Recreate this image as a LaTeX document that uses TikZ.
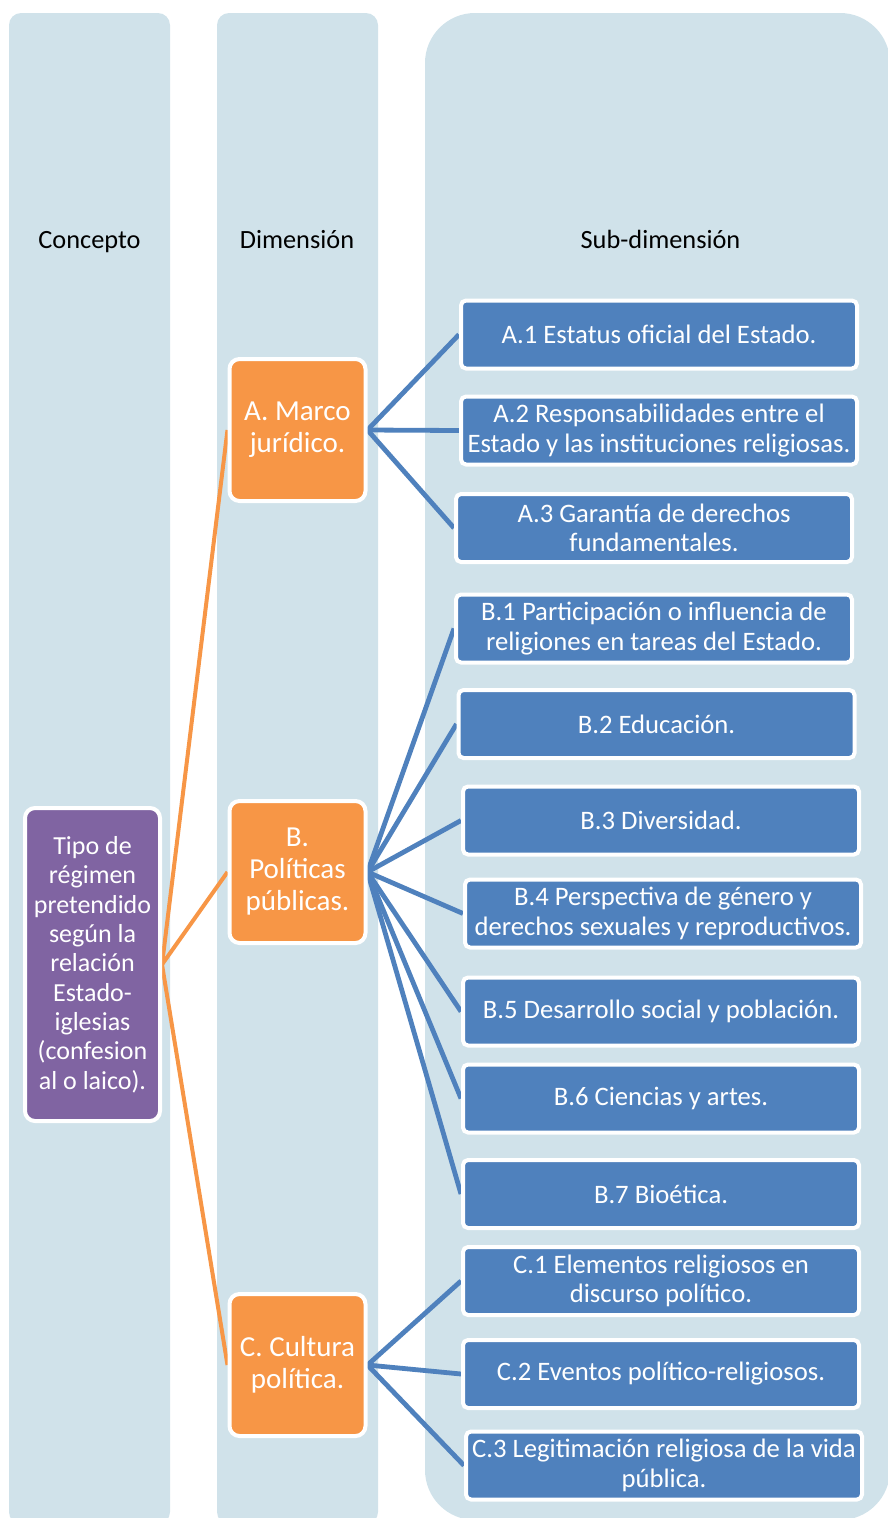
\documentclass[tikz,border=0pt]{standalone}
\usepackage{fontspec}
\setmainfont{Carlito}
\definecolor{colbg}{RGB}{208,226,234}
\definecolor{boxblue}{RGB}{79,129,189}
\definecolor{boxorange}{RGB}{247,150,70}
\definecolor{boxpurple}{RGB}{128,100,162}
\pgfdeclarelayer{cols}
\pgfdeclarelayer{links}
\pgfsetlayers{cols,links,main}
\tikzset{
  boxbase/.style={draw=white, line width=3pt, text=white, align=center, inner sep=0pt},
  subbox/.style={boxbase, fill=boxblue, rounded corners=3.75pt, minimum width=297pt, minimum height=51pt, font=\fontsize{20}{22}\selectfont},
  dimbox/.style={boxbase, fill=boxorange, rounded corners=7.5pt, minimum width=102pt, minimum height=106.5pt, font=\fontsize{21.75}{24}\selectfont},
  conbox/.style={boxbase, fill=boxpurple, rounded corners=7.5pt, minimum width=101.25pt, minimum height=234.75pt, font=\fontsize{19.5}{22}\selectfont},
  header/.style={anchor=base, font=\fontsize{19.75}{22}\selectfont, text=black},
  bline/.style={draw=boxblue, line width=3.6pt},
  oline/.style={draw=boxorange, line width=3pt},
  colfill/.style={fill=colbg},
}
\begin{document}
\begin{tikzpicture}[x=0.75pt,y=-0.75pt]
\useasboundingbox (0,0) rectangle (888,1518);
\begin{pgfonlayer}{cols}
  \fill[colfill, rounded corners=9pt] (9,13) rectangle (170,1524);
  \fill[colfill, rounded corners=9pt] (217,13) rectangle (378,1524);
  \fill[colfill, rounded corners=37.5pt] (425,13) rectangle (890,1520);
\end{pgfonlayer}

\node[header] (hc) at (89.5,248) {Concepto};
\node[header] (hd) at (297,248) {Dimensión};
\node[header] (hs) at (660.5,248) {Sub-dimensión};

\node[conbox] (con) at (92.5,964.5) {Tipo de\\régimen\\pretendido\\según la\\relación\\Estado-\\iglesias\\(confesion\\al o laico).};

\node[dimbox] (dA) at (297.5,430) {A. Marco\\jurídico.};
\node[dimbox] (dB) at (297.5,872) {B.\\Políticas\\públicas.};
\node[dimbox] (dC) at (297.5,1365) {C. Cultura\\política.};

\node[subbox] (a1) at (659,334.5) {A.1 Estatus oficial del Estado.};
\node[subbox] (a2) at (659,430.5) {A.2 Responsabilidades entre el\\Estado y las instituciones religiosas.};
\node[subbox] (a3) at (654,528) {A.3 Garantía de derechos\\fundamentales.};
\node[subbox] (b1) at (654,628.5) {B.1 Participación o influencia de\\religiones en tareas del Estado.};
\node[subbox] (b2) at (656.5,724) {B.2 Educación.};
\node[subbox] (b3) at (661,820.5) {B.3 Diversidad.};
\node[subbox] (b4) at (663,913.5) {B.4 Perspectiva de género y\\derechos sexuales y reproductivos.};
\node[subbox] (b5) at (661,1011.5) {B.5 Desarrollo social y población.};
\node[subbox] (b6) at (661,1098.5) {B.6 Ciencias y artes.};
\node[subbox] (b7) at (661,1194) {B.7 Bioética.};
\node[subbox] (c1) at (661,1281) {C.1 Elementos religiosos en\\discurso político.};
\node[subbox] (c2) at (661,1374) {C.2 Eventos político-religiosos.};
\node[subbox] (c3) at (664,1465.5) {C.3 Legitimación religiosa de la vida\\pública.};

\begin{pgfonlayer}{links}
  \draw[oline] (con.east) -- (dA.west);
  \draw[oline] (con.east) -- (dB.west);
  \draw[oline] (con.east) -- (dC.west);
  \foreach \s in {a1,a2,a3} \draw[bline] (dA.east) -- (\s.west);
  \foreach \s in {b1,b2,b3,b4,b5,b6,b7} \draw[bline] (dB.east) -- (\s.west);
  \foreach \s in {c1,c2,c3} \draw[bline] (dC.east) -- (\s.west);
\end{pgfonlayer}
\end{tikzpicture}
\end{document}
